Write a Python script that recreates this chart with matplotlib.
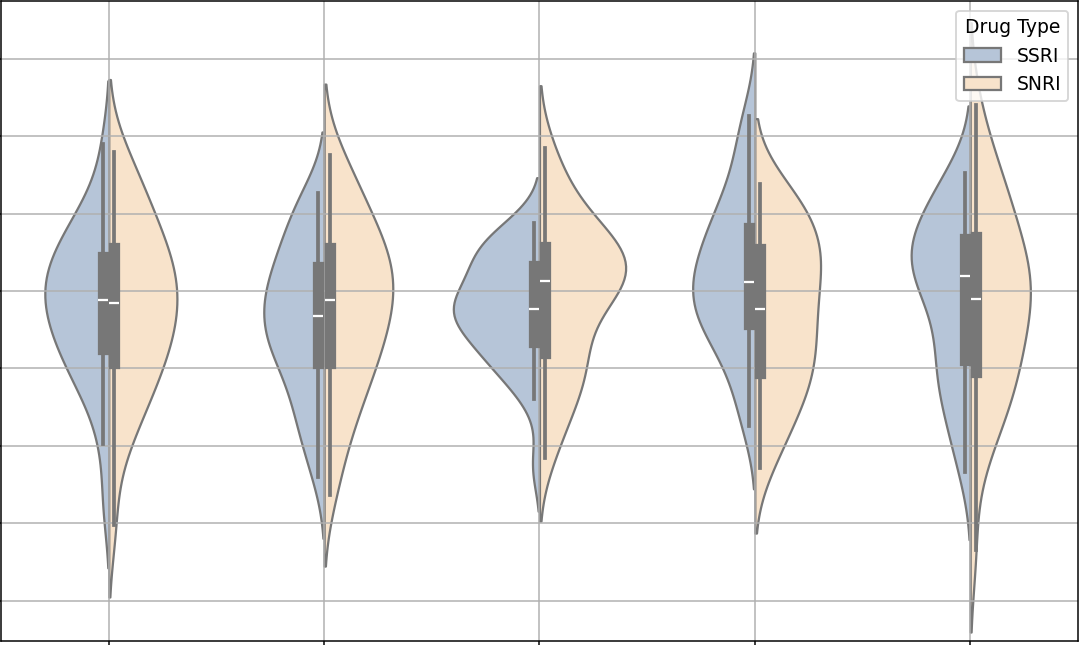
import pandas as pd
import seaborn as sns
import matplotlib.pyplot as plt

groups = ["Week 2", "Week 4", "Week 6", "Week 8", "Week 12"]
drugs = ["SSRI", "SNRI"]

# score change per patient, 30 patients per group and drug
ssri = [
    [-8.8, -4.9, -2.4, -1.5, -0.7, 0.0, 0.6, 1.1, 1.6, 2.1, 2.5, 3.0, 3.4, 3.8, 4.3,
     4.6, 5.0, 5.3, 5.7, 6.1, 6.5, 6.9, 7.3, 7.8, 8.3, 8.9, 9.5, 10.3, 11.4, 14.5],
    [-7.0, -5.2, -4.2, -3.2, -2.4, -1.6, -0.6, 0.2, 0.7, 1.1, 1.5, 2.0, 2.4, 2.8, 3.2,
     3.6, 4.0, 4.4, 4.9, 5.3, 5.8, 6.2, 6.7, 7.3, 7.8, 8.5, 9.3, 10.2, 10.8, 11.3],
    [-6.3, -2.0, -0.8, -0.2, 0.4, 0.8, 1.2, 1.6, 2.0, 2.5, 2.9, 3.2, 3.5, 3.7, 3.7,
     4.0, 4.2, 4.5, 4.8, 5.2, 5.7, 6.3, 6.7, 7.0, 7.3, 7.6, 8.0, 8.4, 8.9, 9.4],
    [-3.7, -2.6, -1.0, 0.3, 1.1, 1.8, 2.3, 2.8, 3.2, 3.6, 4.0, 4.4, 4.7, 5.1, 5.4,
     5.8, 6.3, 6.7, 7.2, 7.7, 8.2, 8.7, 9.2, 9.8, 10.4, 11.2, 12.2, 13.6, 15.2, 16.3],
    [-6.7, -5.0, -3.7, -2.6, -1.6, -0.9, -0.2, 0.4, 1.0, 2.0, 3.0, 3.9, 4.6, 5.1, 5.8,
     6.1, 6.4, 6.7, 7.0, 7.4, 7.8, 8.2, 8.45, 8.9, 9.5, 10.1, 10.8, 11.5, 12.1, 12.6],
]
snri = [
    [-10.1, -5.6, -4.0, -2.9, -2.0, -1.2, -0.5, 0.2, 0.8, 1.3, 1.9, 2.4, 2.9, 3.4, 4.0,
     4.4, 4.9, 5.3, 5.8, 6.3, 6.8, 7.3, 7.9, 8.5, 9.1, 9.9, 10.7, 11.8, 12.6, 14.0],
    [-8.2, -6.0, -4.3, -3.1, -2.2, -1.3, -0.5, 0.2, 0.8, 1.4, 2.0, 2.5, 3.1, 3.6, 4.2,
     4.6, 5.1, 5.5, 6.0, 6.5, 6.9, 7.4, 7.9, 8.5, 9.1, 9.8, 10.6, 11.6, 12.6, 13.8],
    [-5.8, -4.0, -2.8, -1.8, -1.0, -0.3, 0.4, 0.8, 1.5, 2.5, 3.5, 4.3, 4.8, 5.2, 5.5,
     5.8, 6.0, 6.3, 6.6, 6.9, 7.2, 7.6, 7.9, 8.3, 8.8, 9.4, 10.2, 11.2, 12.5, 14.2],
    [-6.4, -5.0, -3.9, -3.0, -2.2, -1.5, -0.9, -0.4, 0.1, 0.7, 1.3, 1.9, 2.5, 3.0, 3.5,
     4.2, 4.8, 5.4, 6.0, 6.5, 7.0, 7.4, 7.8, 8.3, 8.9, 9.5, 10.1, 10.7, 11.3, 11.9],
    [-11.7, -6.0, -4.6, -3.3, -2.3, -1.5, -0.9, -0.4, 0.2, 1.0, 1.8, 2.6, 3.3, 3.9, 4.3,
     4.7, 5.2, 5.7, 6.2, 6.7, 7.2, 7.8, 8.7, 9.5, 10.3, 11.1, 12.0, 12.8, 14.2, 17.0],
]

rows = []
for g, a, b in zip(groups, ssri, snri):
    rows += [(g, "SSRI", v) for v in a]
    rows += [(g, "SNRI", v) for v in b]
df = pd.DataFrame(rows, columns=["Group", "Drug Type", "Score"])

fig = plt.figure(figsize=(8, 4.7778), dpi=135)
ax = fig.add_axes([0.001, 0.006, 0.997, 0.992])

sns.violinplot(data=df, x="Group", y="Score", hue="Drug Type", hue_order=drugs,
               split=True, inner="box", linewidth=1.2, bw_adjust=0.9, cut=1.8,
               inner_kws=dict(box_width=6, whis_width=2),
               palette={"SSRI": "lightsteelblue", "SNRI": "bisque"}, ax=ax)
ax.grid(True)
ax.set_xlim(-0.5, 4.5)
ax.set_ylim(-17.6, 23.7)
ax.set_xlabel("")
ax.set_ylabel("")
ax.tick_params(labelbottom=False, labelleft=False)
sns.move_legend(ax, "upper right", title="Drug Type")

fig.savefig("out.png", dpi=135)
